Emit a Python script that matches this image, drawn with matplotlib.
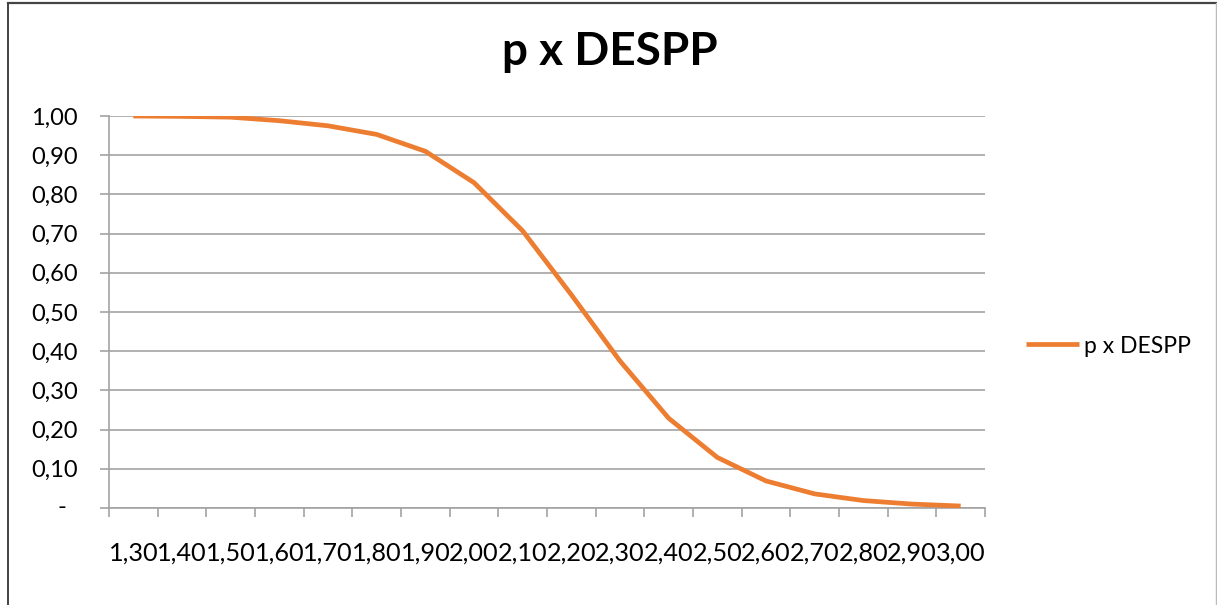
import numpy as np
import matplotlib
matplotlib.use('Agg')
from matplotlib import pyplot as plt
from matplotlib.lines import Line2D
from matplotlib.ticker import FixedLocator, FuncFormatter

plt.rcParams['font.family'] = ['Lato', 'DejaVu Sans']

# categories (x) and probability values
x_labels = ['1,30', '1,40', '1,50', '1,60', '1,70', '1,80', '1,90', '2,00', '2,10',
            '2,20', '2,30', '2,40', '2,50', '2,60', '2,70', '2,80', '2,90', '3,00']
p_values = [1.000, 0.999, 0.997, 0.988, 0.975, 0.953, 0.910, 0.830, 0.707,
            0.544, 0.375, 0.229, 0.129, 0.069, 0.036, 0.019, 0.010, 0.005]
series_name = 'p x DESPP'
y_ticks = [0.0, 0.1, 0.2, 0.3, 0.4, 0.5, 0.6, 0.7, 0.8, 0.9, 1.0]

W, H = 1217, 605
orange = '#ED7D31'
grid_c = '#a3a3a3'

fig = plt.figure(figsize=(W / 100, H / 100), dpi=100)
ax = fig.add_axes([109 / W, 1 - 508 / H, 876 / W, 392 / H])

x = np.arange(len(x_labels))
ax.plot(x, p_values, color=orange, lw=3.4, solid_joinstyle='round',
        solid_capstyle='butt', label=series_name, zorder=3)

ax.set_xlim(-0.5, len(x_labels) - 0.5)
ax.set_ylim(0, 1)

for s in ['top', 'right']:
    ax.spines[s].set_visible(False)
for s in ['left', 'bottom']:
    ax.spines[s].set_color(grid_c)
    ax.spines[s].set_linewidth(1.2)

ax.set_yticks(y_ticks)
ax.yaxis.set_major_formatter(FuncFormatter(
    lambda v, pos: '-' if abs(v) < 1e-9 else ('%.2f' % v).replace('.', ',')))
ax.yaxis.grid(True, color=grid_c, lw=1.2)
ax.set_axisbelow(True)
ax.tick_params(axis='y', length=6.5, width=1.2, color=grid_c, pad=16,
               labelsize=17, labelcolor='black')

ax.set_xticks(x)
ax.set_xticklabels(x_labels)
ax.xaxis.set_minor_locator(FixedLocator(np.arange(-0.5, len(x_labels), 1.0)))
ax.tick_params(axis='x', which='major', length=0, pad=24, labelsize=18.2)
ax.tick_params(axis='x', which='minor', length=6.5, width=1.2, color=grid_c)

# the zero label sits further left (accounting format)
lab0 = ax.get_yticklabels()[0]
lab0.set_visible(False)
ax.annotate('-', xy=(0, 0), xycoords='axes fraction', xytext=(-47, 0),
            textcoords='offset pixels', ha='center', va='center', fontsize=17)

fig.text(610 / W, 1 - 52 / H, 'p x DESPP', ha='center', va='center',
         fontsize=33, fontweight='bold')

ax.legend(loc='center left', bbox_to_anchor=(1026 / W, 1 - 346 / H),
          bbox_transform=fig.transFigure, frameon=False, fontsize=16.5,
          handlelength=2.3, handletextpad=0.25, borderpad=0, borderaxespad=0)

# chart frame edges
fig.add_artist(Line2D([8 / W, 8 / W], [0, 1 - 3 / H], transform=fig.transFigure,
                      color='#333333', lw=1.3))
fig.add_artist(Line2D([8 / W, 1], [1 - 3 / H, 1 - 3 / H], transform=fig.transFigure,
                      color='#444444', lw=1.6))
fig.add_artist(Line2D([1 - 1.5 / W, 1 - 1.5 / W], [0, 1 - 3 / H],
                      transform=fig.transFigure, color='#bbbbbb', lw=1.0))

fig.savefig('out.png', dpi=100)
